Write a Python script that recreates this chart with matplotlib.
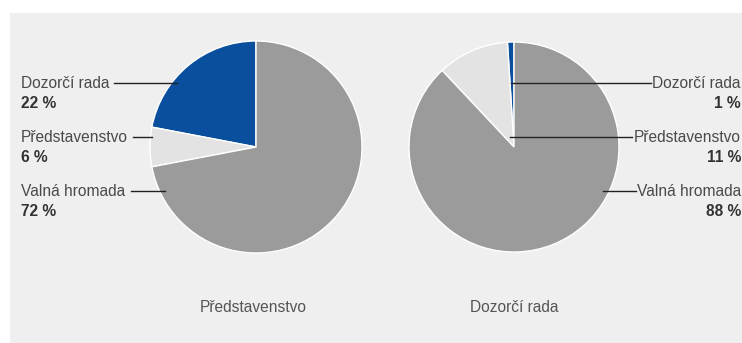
import matplotlib
matplotlib.use('Agg')
import matplotlib.pyplot as plt
from matplotlib.patches import Rectangle

plt.rcParams['font.family'] = ['Liberation Sans', 'DejaVu Sans']

# data
labels = ['Dozorčí rada', 'Představenstvo', 'Valná hromada']
pred_vals = [22, 6, 72]
dozor_vals = [1, 11, 88]
titles = ['Představenstvo', 'Dozorčí rada']
colors = ['#0a4f9e', '#e3e3e3', '#9b9b9b']

W, H = 742, 343
fig = plt.figure(figsize=(W / 100, H / 100), dpi=100)
ax = fig.add_axes([0, 0, 1, 1])

# pozadi
ax.add_patch(Rectangle((10, 0), W - 10, H - 13, facecolor='#efefef', edgecolor='none', zorder=0))

def py(y):
    # pixel y (shora) -> data y
    return H - y

wp = dict(edgecolor='white', linewidth=1.0)
ax.pie(pred_vals, colors=colors, startangle=90, counterclock=True,
       center=(256, py(147)), radius=106, wedgeprops=wp)
ax.pie(dozor_vals, colors=colors, startangle=90, counterclock=True,
       center=(514, py(147)), radius=105, wedgeprops=wp)

ax.set_xlim(0, W)
ax.set_ylim(0, H)
ax.set_aspect('auto')
ax.axis('off')

name_col = '#4a4a4a'
pct_col = '#333333'
fs = 11.2
label_y = [83, 137, 191]

# leve popisky
left_lines = [(114, 177), (133, 152), (131, 165)]
for lab, v, y, (x0, x1) in zip(labels, pred_vals, label_y, left_lines):
    ax.text(21, py(y), lab, ha='left', va='center', fontsize=fs, color=name_col)
    ax.text(21, py(y + 20), f'{v} %', ha='left', va='center', fontsize=fs,
            color=pct_col, fontweight='bold')
    ax.plot([x0, x1], [py(y), py(y)], color='#222222', lw=1.0)

# prave popisky
right_lines = [(511, 651), (510, 632), (603, 636)]
for lab, v, y, (x0, x1) in zip(labels, dozor_vals, label_y, right_lines):
    ax.text(741, py(y), lab, ha='right', va='center', fontsize=fs, color=name_col)
    ax.text(741, py(y + 20), f'{v} %', ha='right', va='center', fontsize=fs,
            color=pct_col, fontweight='bold')
    ax.plot([x0, x1], [py(y), py(y)], color='#222222', lw=1.0)

# nadpisy pod grafy
ax.text(253, py(307), titles[0], ha='center', va='center', fontsize=fs, color='#555555')
ax.text(514, py(307), titles[1], ha='center', va='center', fontsize=fs, color='#555555')

fig.savefig('out.png', dpi=100, facecolor='white')
